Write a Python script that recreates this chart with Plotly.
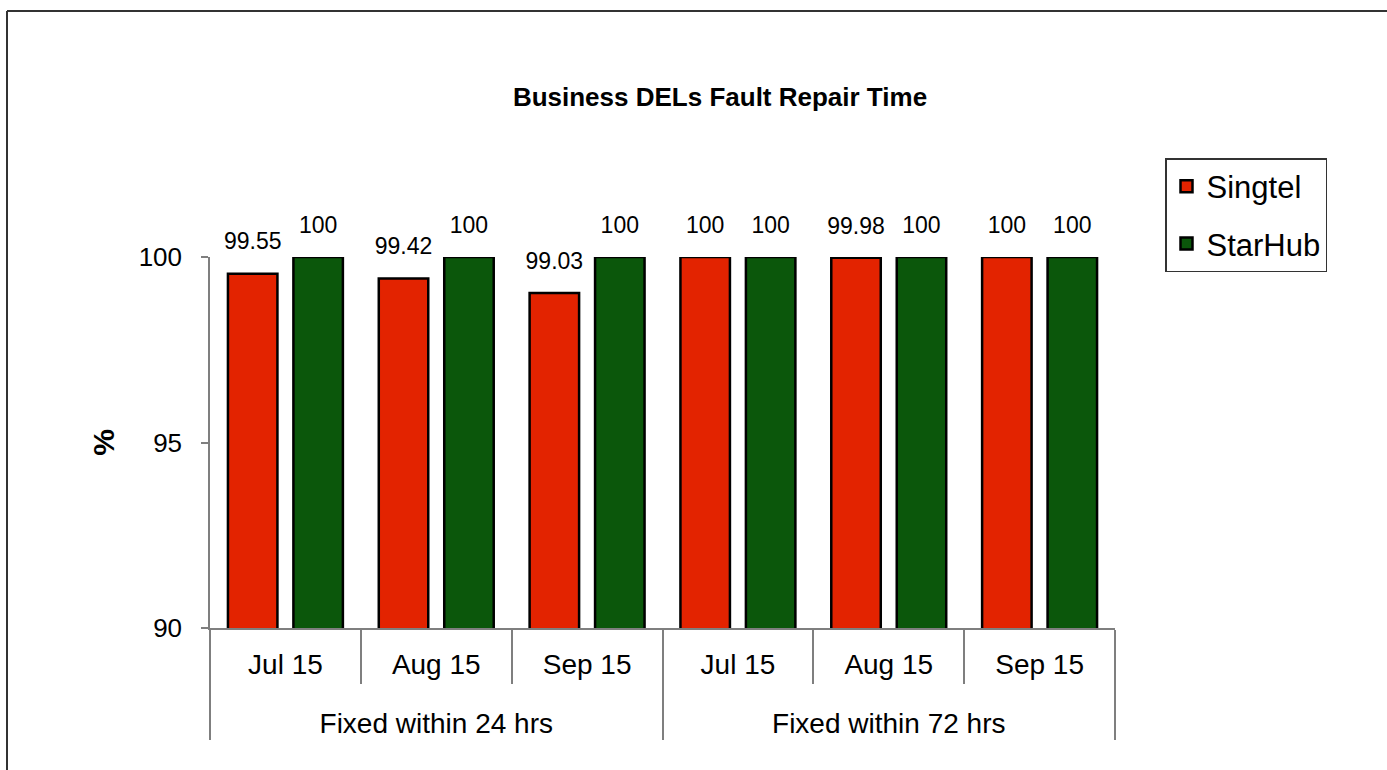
import plotly.graph_objects as go

groups = ["Fixed within 24 hrs"] * 3 + ["Fixed within 72 hrs"] * 3
months = ["Jul 15", "Aug 15", "Sep 15", "Jul 15", "Aug 15", "Sep 15"]
singtel = [99.55, 99.42, 99.03, 100, 99.98, 100]
starhub = [100, 100, 100, 100, 100, 100]
series_names = ["Singtel", "StarHub"]
colors = ["#E32300", "#0B570B"]

FONT = "Liberation Sans, Arial, sans-serif"
W, H = 1387, 770
L, R, T, B = 210, 272, 257, 142
PW, PH = W - L - R, H - T - B

def px_to_paper_x(px):
    return (px - L) / PW

def px_to_paper_y(py):
    return 1 + (T - py) / PH

# second-level labels are pushed down one line to match the original spacing
group_labels = ["<br>" + g for g in groups]

fig = go.Figure()
for name, vals, col in zip(series_names, [singtel, starhub], colors):
    fig.add_trace(go.Bar(
        x=[group_labels, months], y=vals, name=name, legendgroup=name,
        offsetgroup=name,
        marker=dict(color=col, line=dict(color="black", width=2.5)),
    ))
for name, vals in zip(series_names, [singtel, starhub]):
    fig.add_trace(go.Scatter(
        x=[group_labels, months], y=vals, mode="markers+text", offsetgroup=name,
        text=[f"{v:g}" for v in vals], textposition="top center",
        textfont=dict(family=FONT, size=23, color="black"),
        marker=dict(size=28, color="rgba(0,0,0,0)"),
        showlegend=False, cliponaxis=False, hoverinfo="skip",
    ))

# frame lines (top and left border of the original image)
fig.add_shape(type="line", xref="paper", yref="paper",
              x0=px_to_paper_x(7), x1=px_to_paper_x(W + 5),
              y0=px_to_paper_y(11), y1=px_to_paper_y(11),
              line=dict(color="#333333", width=2))
fig.add_shape(type="line", xref="paper", yref="paper",
              x0=px_to_paper_x(7), x1=px_to_paper_x(7),
              y0=px_to_paper_y(11), y1=px_to_paper_y(H + 5),
              line=dict(color="#333333", width=2))

fig.update_layout(
    width=W, height=H,
    margin=dict(l=L, r=R, t=T, b=B),
    paper_bgcolor="white", plot_bgcolor="white",
    barmode="group", bargap=0.132, bargroupgap=0.244,
    scattermode="group", scattergap=0.132,
    font=dict(family=FONT, color="black"),
    title=dict(text="<b>Business DELs Fault Repair Time</b>",
               x=720 / W, y=1 - 97 / H, xanchor="center", yanchor="middle",
               font=dict(family=FONT, size=26, color="black")),
    legend=dict(x=px_to_paper_x(1165), y=px_to_paper_y(158),
                xanchor="left", yanchor="top",
                bordercolor="#333333", borderwidth=1.5,
                font=dict(family=FONT, size=31, color="black"),
                tracegroupgap=14, traceorder="grouped"),
    showlegend=True,
)
fig.update_yaxes(
    range=[90, 100], tickvals=[90, 95, 100], showgrid=False, zeroline=False,
    showline=True, linecolor="#7f7f7f", linewidth=1.5,
    ticks="outside", ticklen=7, tickcolor="#7f7f7f", tickwidth=1.5,
    tickfont=dict(family=FONT, size=26, color="black"), ticklabelstandoff=14,
    title=dict(text="<b>%</b>", font=dict(family=FONT, size=30, color="black"),
               standoff=15),
)
fig.update_xaxes(
    type="multicategory", showgrid=False, zeroline=False,
    showline=True, linecolor="#7f7f7f", linewidth=1.5,
    ticks="outside", ticklen=54, tickcolor="#7f7f7f", tickwidth=1.5,
    showdividers=True, dividercolor="#7f7f7f", dividerwidth=1.5,
    tickfont=dict(family=FONT, size=28, color="black"), ticklabelstandoff=11,
)

fig.write_html("out.html", config={"displayModeBar": False},
               post_script="document.body.style.margin='0px';")
